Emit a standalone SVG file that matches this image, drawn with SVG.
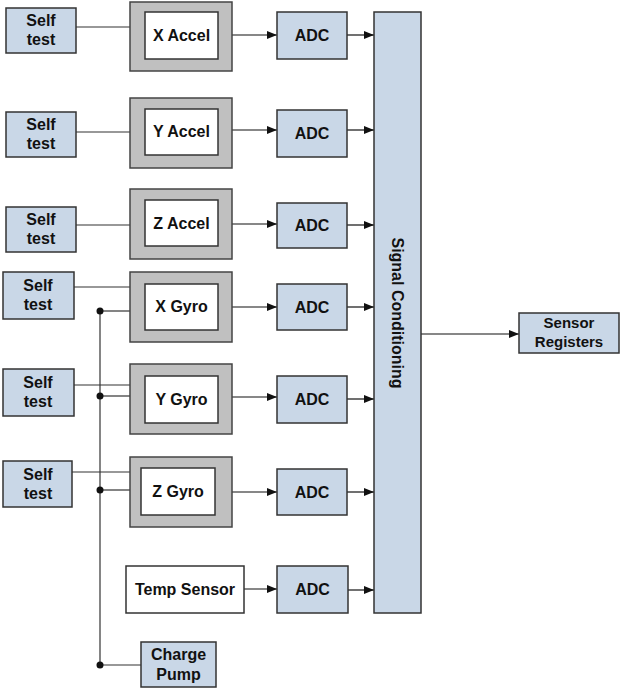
<svg xmlns="http://www.w3.org/2000/svg" width="625" height="694" viewBox="0 0 625 694">
<style>
.blue{fill:#c9d7e7;stroke:#333;stroke-width:1.5}
.gray{fill:#c0c0c0;stroke:#444;stroke-width:1.5}
.white{fill:#fff;stroke:#333;stroke-width:1.5}
text{font-family:"Liberation Sans",Arial,sans-serif;font-weight:bold;font-size:16px;fill:#111;text-anchor:middle}
.ln{stroke:#333;stroke-width:1.2;fill:none}
.ar{stroke:#111;stroke-width:1.2;fill:none;marker-end:url(#ah)}
</style>
<defs>
<marker id="ah" viewBox="0 0 10 8" refX="10" refY="4" markerWidth="10" markerHeight="8" markerUnits="userSpaceOnUse" orient="auto">
<path d="M0,0 L10,4 L0,8 z" fill="#111"/>
</marker>
</defs>
<rect width="625" height="694" fill="#fff"/>
<g id="connectors">
<line class="ln" x1="76" y1="27" x2="130" y2="27"/>
<line class="ln" x1="76" y1="132" x2="130" y2="132"/>
<line class="ln" x1="76" y1="225" x2="130" y2="225"/>
<line class="ln" x1="74" y1="287" x2="130" y2="287"/>
<line class="ln" x1="74" y1="385" x2="130" y2="385"/>
<line class="ln" x1="72" y1="472" x2="130" y2="472"/>
<line class="ln" x1="100" y1="311" x2="100" y2="665"/>
<line class="ln" x1="100" y1="311" x2="130" y2="311"/>
<line class="ln" x1="100" y1="396" x2="130" y2="396"/>
<line class="ln" x1="100" y1="490" x2="130" y2="490"/>
<line class="ln" x1="100" y1="665" x2="141" y2="665"/>
<circle cx="100" cy="311" r="3.5" fill="#111"/>
<circle cx="100" cy="396" r="3.5" fill="#111"/>
<circle cx="100" cy="490" r="3.5" fill="#111"/>
<circle cx="100" cy="665" r="3.5" fill="#111"/>
<line class="ar" x1="232" y1="35" x2="277" y2="35"/>
<line class="ar" x1="232" y1="130" x2="277" y2="130"/>
<line class="ar" x1="232" y1="224" x2="277" y2="224"/>
<line class="ar" x1="232" y1="307" x2="277" y2="307"/>
<line class="ar" x1="232" y1="397" x2="277" y2="397"/>
<line class="ar" x1="228" y1="492" x2="277" y2="492"/>
<line class="ar" x1="244" y1="589" x2="277" y2="589"/>
<line class="ar" x1="347" y1="35" x2="374" y2="35"/>
<line class="ar" x1="347" y1="130" x2="374" y2="130"/>
<line class="ar" x1="347" y1="225" x2="374" y2="225"/>
<line class="ar" x1="347" y1="307" x2="374" y2="307"/>
<line class="ar" x1="347" y1="399" x2="374" y2="399"/>
<line class="ar" x1="347" y1="492" x2="374" y2="492"/>
<line class="ar" x1="348" y1="590" x2="374" y2="590"/>
<line class="ar" x1="421" y1="334" x2="519" y2="334"/>
</g>
<g id="st1"><rect class="blue" x="6" y="8" width="70" height="45"/><text x="41" y="26">Self</text><text x="41" y="45">test</text></g>
<g id="st2"><rect class="blue" x="6" y="112" width="70" height="45"/><text x="41" y="130">Self</text><text x="41" y="149">test</text></g>
<g id="st3"><rect class="blue" x="6" y="207" width="70" height="45"/><text x="41" y="225">Self</text><text x="41" y="244">test</text></g>
<g id="st4"><rect class="blue" x="3" y="272" width="71" height="47"/><text x="38" y="291">Self</text><text x="38" y="310">test</text></g>
<g id="st5"><rect class="blue" x="3" y="369" width="71" height="47"/><text x="38" y="388">Self</text><text x="38" y="407">test</text></g>
<g id="st6"><rect class="blue" x="3" y="461" width="69" height="46"/><text x="38" y="480">Self</text><text x="38" y="499">test</text></g>
<g id="xaccel"><rect class="gray" x="130" y="2" width="102" height="69"/><rect class="white" x="145" y="12" width="73" height="47"/><text x="181.5" y="41">X Accel</text></g>
<g id="yaccel"><rect class="gray" x="130" y="98" width="102" height="70"/><rect class="white" x="145" y="109" width="73" height="46"/><text x="181.5" y="137">Y Accel</text></g>
<g id="zaccel"><rect class="gray" x="130" y="189" width="102" height="70"/><rect class="white" x="145" y="200" width="73" height="46"/><text x="181.5" y="229">Z Accel</text></g>
<g id="xgyro"><rect class="gray" x="130" y="272" width="102" height="70"/><rect class="white" x="145" y="284" width="73" height="46"/><text x="181.5" y="312">X Gyro</text></g>
<g id="ygyro"><rect class="gray" x="130" y="364" width="102" height="70"/><rect class="white" x="145" y="376" width="73" height="47"/><text x="181.5" y="405">Y Gyro</text></g>
<g id="zgyro"><rect class="gray" x="130" y="457" width="102" height="70"/><rect class="white" x="141" y="468" width="74" height="47"/><text x="178" y="497">Z Gyro</text></g>
<g id="temp"><rect class="white" x="126" y="566" width="118" height="47"/><text x="185" y="595">Temp Sensor</text></g>
<g id="cpump"><rect class="blue" x="141" y="642" width="75" height="45"/><text x="178.5" y="660">Charge</text><text x="178.5" y="680">Pump</text></g>
<g id="adc1"><rect class="blue" x="277" y="12" width="70" height="47"/><text x="312" y="41">ADC</text></g>
<g id="adc2"><rect class="blue" x="277" y="110" width="70" height="47"/><text x="312" y="139">ADC</text></g>
<g id="adc3"><rect class="blue" x="277" y="203" width="70" height="45"/><text x="312" y="231">ADC</text></g>
<g id="adc4"><rect class="blue" x="277" y="284" width="70" height="46"/><text x="312" y="313">ADC</text></g>
<g id="adc5"><rect class="blue" x="277" y="376" width="70" height="47"/><text x="312" y="405">ADC</text></g>
<g id="adc6"><rect class="blue" x="277" y="469" width="70" height="46"/><text x="312" y="498">ADC</text></g>
<g id="adc7"><rect class="blue" x="277" y="566" width="71" height="47"/><text x="312.5" y="595">ADC</text></g>
<g id="sigcond"><rect class="blue" x="374" y="12" width="47" height="601"/><text transform="translate(392,313) rotate(90)" x="0" y="0">Signal Conditioning</text></g>
<g id="sensreg"><rect class="blue" x="519" y="313" width="100" height="40"/><text x="569" y="328" style="font-size:15px">Sensor</text><text x="569" y="347" style="font-size:15px">Registers</text></g>
</svg>
